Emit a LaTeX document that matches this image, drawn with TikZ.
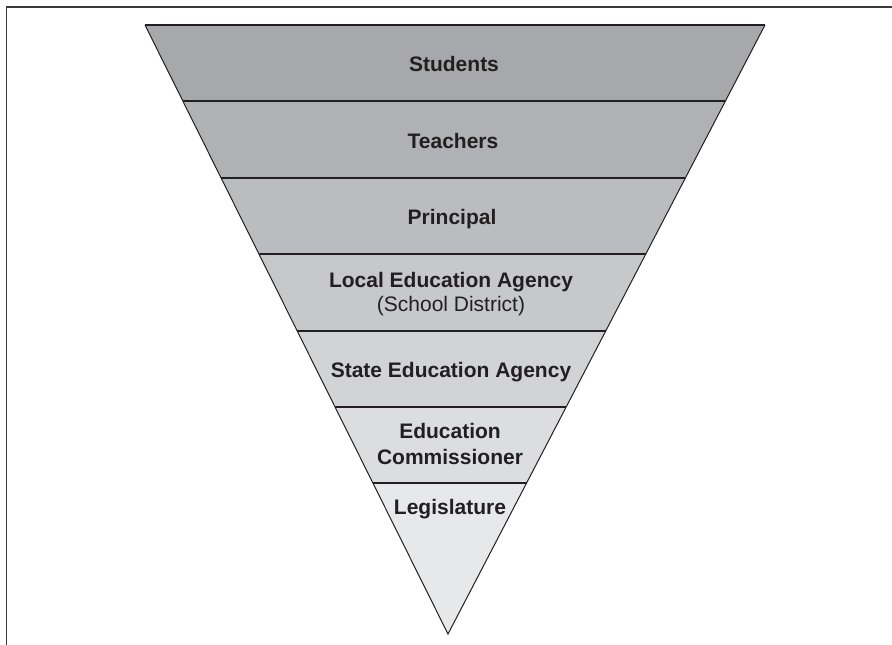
\documentclass[tikz,border=0pt]{standalone}
\usepackage{fontspec}
\setmainfont{Liberation Sans}
\usepackage{tikz}
\usetikzlibrary{calc}

\definecolor{ink}{HTML}{231F20}
\definecolor{frameline}{HTML}{3A3A3A}
\definecolor{tierA}{HTML}{A7A8AB}
\definecolor{tierB}{HTML}{B0B1B4}
\definecolor{tierC}{HTML}{BBBCBF}
\definecolor{tierD}{HTML}{C7C8CA}
\definecolor{tierE}{HTML}{D2D3D5}
\definecolor{tierF}{HTML}{DCDDDF}
\definecolor{tierG}{HTML}{E7E8E9}

\begin{document}
\begin{tikzpicture}[x=1pt, y=-1pt,
  tierline/.style={line width=1.3pt, draw=ink},
  tiertext/.style={font=\fontsize{21}{25}\selectfont\bfseries, text=ink, align=center, inner sep=0pt, anchor=base},
  subtext/.style={font=\fontsize{21}{25}\selectfont, text=ink, inner sep=0pt, anchor=base}]
\useasboundingbox (0,0) rectangle (892,645);
\draw[line width=1.4pt, draw=frameline] (6.5,645) -- (6.5,7) -- (892,7);
\coordinate (tl) at (145,25);
\coordinate (tr) at (765,25);
\coordinate (tip) at (448,634);
% the seven tiers, darkest on top
\fill[tierA] (tl) -- (tr) -- ($(tr)!0.1248!(tip)$) -- ($(tl)!0.1248!(tip)$) -- cycle;
\fill[tierB] ($(tl)!0.1248!(tip)$) -- ($(tr)!0.1248!(tip)$) -- ($(tr)!0.2512!(tip)$) -- ($(tl)!0.2512!(tip)$) -- cycle;
\fill[tierC] ($(tl)!0.2512!(tip)$) -- ($(tr)!0.2512!(tip)$) -- ($(tr)!0.3760!(tip)$) -- ($(tl)!0.3760!(tip)$) -- cycle;
\fill[tierD] ($(tl)!0.3760!(tip)$) -- ($(tr)!0.3760!(tip)$) -- ($(tr)!0.5025!(tip)$) -- ($(tl)!0.5025!(tip)$) -- cycle;
\fill[tierE] ($(tl)!0.5025!(tip)$) -- ($(tr)!0.5025!(tip)$) -- ($(tr)!0.6273!(tip)$) -- ($(tl)!0.6273!(tip)$) -- cycle;
\fill[tierF] ($(tl)!0.6273!(tip)$) -- ($(tr)!0.6273!(tip)$) -- ($(tr)!0.7521!(tip)$) -- ($(tl)!0.7521!(tip)$) -- cycle;
\fill[tierG] ($(tl)!0.7521!(tip)$) -- ($(tr)!0.7521!(tip)$) -- (tip) -- cycle;
% dividing lines
\draw[tierline] ($(tl)!0.1248!(tip)$) -- ($(tr)!0.1248!(tip)$);
\draw[tierline] ($(tl)!0.2512!(tip)$) -- ($(tr)!0.2512!(tip)$);
\draw[tierline] ($(tl)!0.3760!(tip)$) -- ($(tr)!0.3760!(tip)$);
\draw[tierline] ($(tl)!0.5025!(tip)$) -- ($(tr)!0.5025!(tip)$);
\draw[tierline] ($(tl)!0.6273!(tip)$) -- ($(tr)!0.6273!(tip)$);
\draw[tierline] ($(tl)!0.7521!(tip)$) -- ($(tr)!0.7521!(tip)$);
\draw[tierline] (tl) -- (tr);
\draw[line width=1pt, draw=ink] (tl) -- (tip) -- (tr);
% labels
\node[tiertext] (students) at (454,71) {Students};
\node[tiertext] (teachers) at (453,148) {Teachers};
\node[tiertext] (principal) at (452,224) {Principal};
\node[tiertext] (lea) at (451,287) {Local Education Agency};
\node[subtext] (district) at (451,311) {(School District)};
\node[tiertext] (sea) at (451,377) {State Education Agency};
\node[tiertext] (edu) at (450,438) {Education};
\node[tiertext] (commissioner) at (450,464) {Commissioner};
\node[tiertext] (legislature) at (450,514) {Legislature};
\end{tikzpicture}
\end{document}
